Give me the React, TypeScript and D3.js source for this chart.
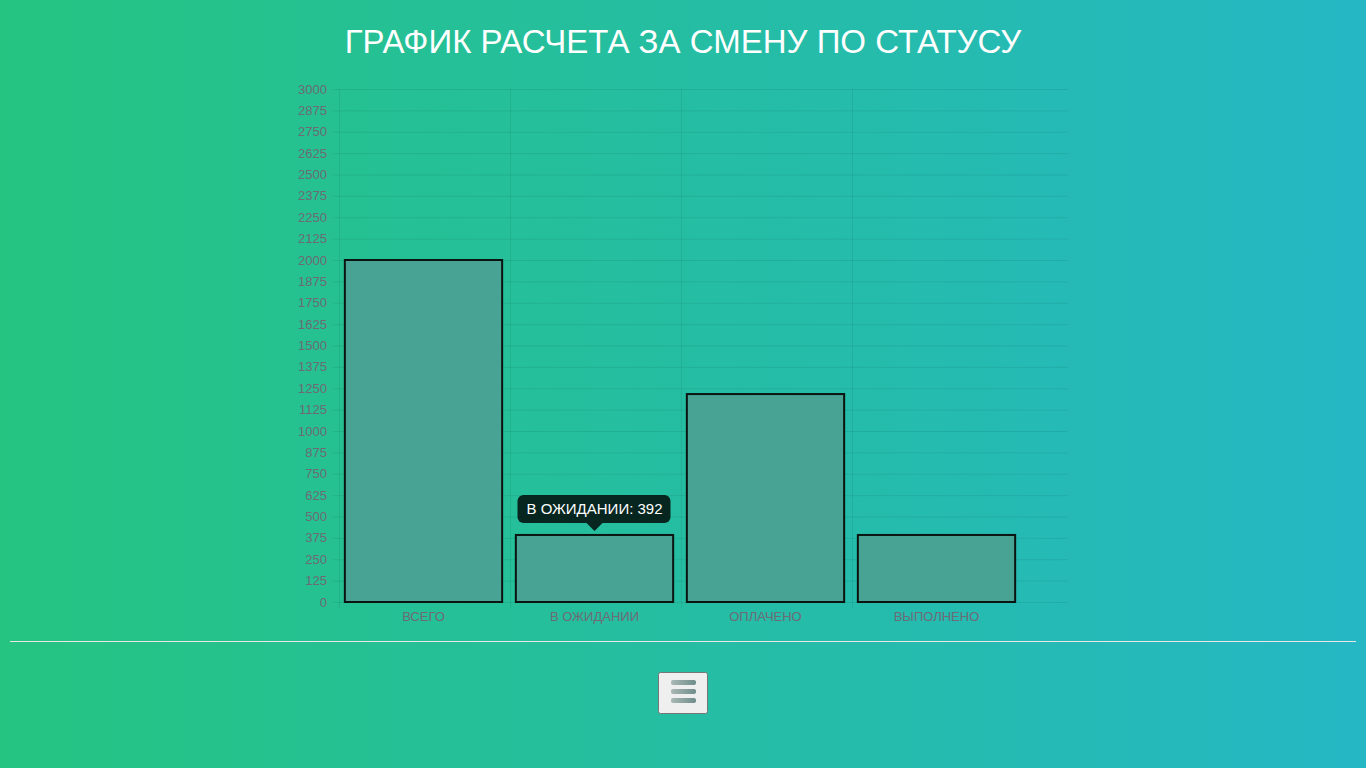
import React, { useEffect, useRef } from 'react';
import * as d3 from 'd3';

// Data
const categories = ['ВСЕГО', 'В ОЖИДАНИИ', 'ОПЛАЧЕНО', 'ВЫПОЛНЕНО'];
const values = [2000, 392, 1216, 392];
const yTicks = d3.range(0, 3001, 125);
const title = 'ГРАФИК РАСЧЕТА ЗА СМЕНУ ПО СТАТУСУ';
const hoverIndex = 1;

const App = () => {
  const ref = useRef<SVGSVGElement>(null);

  useEffect(() => {
    const width = 1366;
    const height = 768;
    const svg = d3.select(ref.current);
    svg.selectAll('*').remove();

    // background gradient
    const defs = svg.append('defs');
    const bg = defs.append('linearGradient').attr('id', 'bg').attr('x1', '0%').attr('x2', '100%');
    bg.append('stop').attr('offset', '0%').attr('stop-color', '#25c481');
    bg.append('stop').attr('offset', '100%').attr('stop-color', '#25b7c4');
    const ham = defs.append('linearGradient').attr('id', 'ham').attr('x1', '0%').attr('x2', '100%');
    ham.append('stop').attr('offset', '0%').attr('stop-color', '#a9b9b4');
    ham.append('stop').attr('offset', '100%').attr('stop-color', '#6f8c8c');

    svg.append('rect').attr('width', width).attr('height', height).attr('fill', 'url(#bg)');

    // title
    svg.append('text')
      .attr('x', 683).attr('y', 53)
      .attr('text-anchor', 'middle')
      .attr('font-family', 'Liberation Sans, Arial, sans-serif')
      .attr('font-size', 33)
      .attr('fill', '#ffffff')
      .text(title);

    // scales
    const left = 339;
    const bandRight = 1023;
    const gridRight = 1068;
    const top = 89;
    const bottom = 602;

    const x = d3.scaleBand().domain(categories).range([left - 1, bandRight - 1]).paddingInner(0.08).paddingOuter(0.04);
    const y = d3.scaleLinear().domain([0, 3000]).range([bottom, top]);

    const font = 'Liberation Sans, Arial, sans-serif';
    const gridColor = 'rgba(0,0,0,0.07)';

    // horizontal grid + y ticks
    const yg = svg.append('g');
    yTicks.forEach((t) => {
      yg.append('line')
        .attr('x1', left - 6).attr('x2', gridRight)
        .attr('y1', y(t) + 0.5).attr('y2', y(t) + 0.5)
        .attr('stroke', gridColor);
      yg.append('text')
        .attr('x', left - 12).attr('y', y(t) + 4.5)
        .attr('text-anchor', 'end')
        .attr('font-family', font).attr('font-size', 13)
        .attr('fill', '#6e6a76')
        .text(t);
    });

    // vertical grid lines
    d3.range(0, categories.length).forEach((i) => {
      const gx = Math.round(left + i * (bandRight - left) / categories.length) + 0.5;
      svg.append('line')
        .attr('x1', gx).attr('x2', gx)
        .attr('y1', top).attr('y2', bottom + 6)
        .attr('stroke', gridColor);
    });

    // bars
    svg.append('g').selectAll('rect')
      .data(values)
      .enter()
      .append('rect')
      .attr('x', (d, i) => x(categories[i]) as number)
      .attr('y', (d) => y(d))
      .attr('width', x.bandwidth())
      .attr('height', (d) => bottom - y(d))
      .attr('fill', '#48a395')
      .attr('stroke', '#0a1410')
      .attr('stroke-width', 2);

    // x labels
    svg.append('g').selectAll('text')
      .data(categories)
      .enter()
      .append('text')
      .attr('x', (d) => (x(d) as number) + x.bandwidth() / 2)
      .attr('y', 621)
      .attr('text-anchor', 'middle')
      .attr('font-family', font).attr('font-size', 13)
      .attr('fill', '#6e6a76')
      .text((d) => d);

    // tooltip
    const cx = (x(categories[hoverIndex]) as number) + x.bandwidth() / 2;
    const ty = y(values[hoverIndex]) - 3;
    const tip = svg.append('g');
    const label = `${categories[hoverIndex]}: ${values[hoverIndex]}`;
    tip.append('rect')
      .attr('x', cx - 77).attr('y', ty - 37)
      .attr('width', 153).attr('height', 28)
      .attr('rx', 6)
      .attr('fill', 'rgba(0,0,0,0.8)');
    tip.append('path')
      .attr('d', `M${cx - 8},${ty - 9}L${cx},${ty - 1}L${cx + 8},${ty - 9}Z`)
      .attr('fill', 'rgba(0,0,0,0.8)');
    tip.append('text')
      .attr('x', cx).attr('y', ty - 17.5)
      .attr('text-anchor', 'middle')
      .attr('font-family', font).attr('font-size', 15)
      .attr('fill', '#ffffff')
      .text(label);

    // divider
    svg.append('line')
      .attr('x1', 10).attr('x2', 1356)
      .attr('y1', 641.5).attr('y2', 641.5)
      .attr('stroke', '#e8e8e8').attr('stroke-width', 1);

    // menu button
    const btn = svg.append('g');
    btn.append('rect')
      .attr('x', 658.5).attr('y', 672.5)
      .attr('width', 49).attr('height', 41)
      .attr('rx', 2)
      .attr('fill', '#efefef')
      .attr('stroke', '#767676');
    [680, 689, 698].forEach((by) => {
      btn.append('rect')
        .attr('x', 671).attr('y', by)
        .attr('width', 25).attr('height', 5)
        .attr('rx', 2)
        .attr('fill', 'url(#ham)');
    });

    return () => {
      svg.selectAll('*').remove();
    };
  }, []);

  return (
    <svg
      ref={ref}
      width={1366}
      height={768}
      style={{ position: 'absolute', left: 0, top: 0, display: 'block' }}
    />
  );
};

export default App;
